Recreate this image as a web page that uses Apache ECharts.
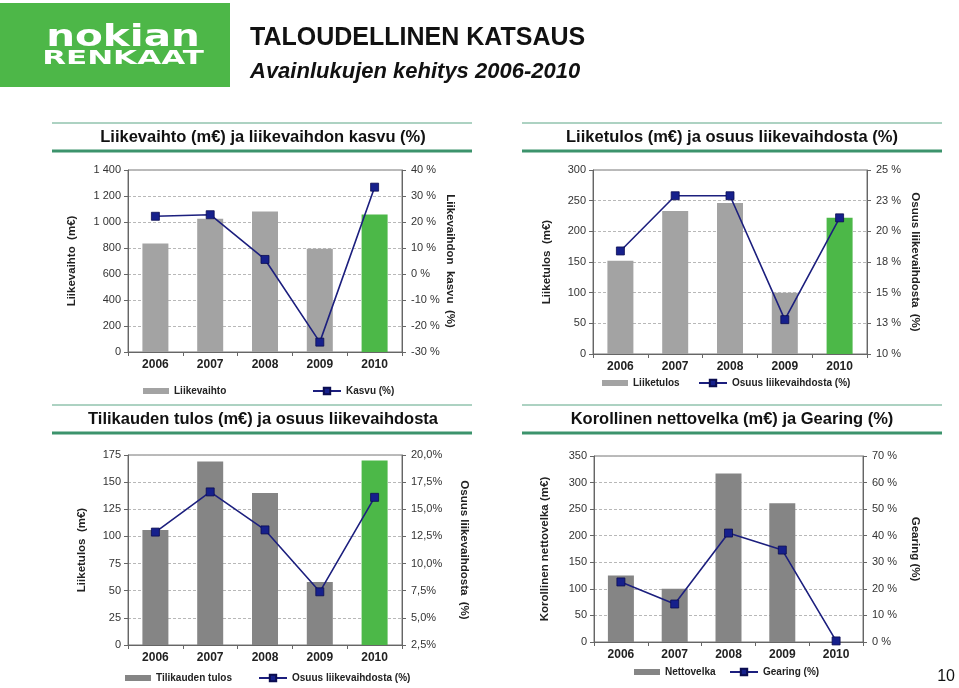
<!DOCTYPE html>
<html>
<head>
<meta charset="UTF-8">
<title>Taloudellinen katsaus</title>
<script src="https://cdn.jsdelivr.net/npm/echarts@6/dist/echarts.min.js"></script>
<style>
  html, body { margin: 0; padding: 0; background: #fff; }
  #main { width: 959px; height: 688px; }
</style>
</head>
<body>
<div id="main"></div>
<script>
// data
var years = ['2006', '2007', '2008', '2009', '2010'];
var liikevaihto = [835, 1025, 1080, 795, 1058];
var kasvu = [22.2, 22.8, 5.6, -26.2, 33.4];
var liiketulos = [152, 233, 246, 100, 222];
var liiketulosOsuus = [18.4, 22.9, 22.9, 12.8, 21.1];
var tilikaudenTulos = [106, 169, 140, 58, 170];
var tulosOsuus = [12.9, 16.6, 13.1, 7.4, 16.1];
var nettovelka = [125, 100, 317, 261, 0];
var gearing = [22.6, 14.3, 41.0, 34.6, 0.4];

var FONT = 'Liberation Sans, Arial, sans-serif';
var NAVY = '#1c1f7e';
var GREEN = '#4cb848';

var myChart = echarts.init(document.getElementById('main'));

function bars(values, grey, last) {
    return values.map(function (v, i) {
        return { value: v, itemStyle: { color: (i == 4 && last) ? GREEN : grey } };
    });
}
function spaced(v) {
    return v >= 1000 ? Math.floor(v / 1000) + ' ' + String(v % 1000).padStart(3, '0') : String(v);
}

function xAx(g) {
    return {
        type: 'category', gridIndex: g, data: years,
        axisLine: { lineStyle: { color: '#666' } },
        axisTick: { show: true, length: 4, lineStyle: { color: '#666' } },
        axisLabel: { margin: 7, fontFamily: FONT, fontSize: 12, fontWeight: 'bold', color: '#222' }
    };
}
function yAx(g, pos, min, max, step, fmt, name, gap, grid) {
    return {
        type: 'value', gridIndex: g, position: pos, min: min, max: max, interval: step,
        name: name, nameLocation: 'middle', nameGap: gap, nameRotate: pos == 'left' ? 90 : -90,
        nameTextStyle: { fontFamily: FONT, fontSize: 11.5, fontWeight: 'bold', color: '#222' },
        axisLine: { show: true, lineStyle: { color: '#666' } },
        axisTick: { show: true, length: 4, lineStyle: { color: '#666' } },
        axisLabel: { margin: pos == 'left' ? 7 : 9, fontFamily: FONT, fontSize: 11, color: '#333', formatter: fmt },
        splitLine: { show: grid, lineStyle: { color: '#b8b8b8', type: [3, 2] } }
    };
}
function lineSeries(name, g, data) {
    return {
        name: name, type: 'line', xAxisIndex: g, yAxisIndex: g * 2 + 1, data: data,
        symbol: 'rect', symbolSize: 8,
        lineStyle: { color: NAVY, width: 1.6 },
        itemStyle: { color: '#16208c', borderColor: '#0b0d50', borderWidth: 0.8 },
        z: 5
    };
}
function barSeries(name, g, data, grey, last) {
    return {
        name: name, type: 'bar', xAxisIndex: g, yAxisIndex: g * 2, data: bars(data, grey, last),
        barWidth: 26, itemStyle: { color: grey }
    };
}
function leg(name, left, top, isBar) {
    return {
        data: [name], left: left, top: top, padding: 0,
        itemWidth: isBar ? 26 : 28, itemHeight: isBar ? 6 : 8, itemGap: 4,
        icon: isBar ? 'rect' : undefined,
        textStyle: { fontFamily: FONT, fontSize: 10, fontWeight: 'bold', color: '#222' },
        selectedMode: false
    };
}

function titleBlock(cx, y1, text) {
    var x0 = cx < 480 ? 52 : 522;
    return [
        { type: 'line', shape: { x1: x0, y1: y1, x2: x0 + 420, y2: y1 }, style: { stroke: '#5aa585', lineWidth: 1 } },
        { type: 'line', shape: { x1: x0, y1: y1 + 28, x2: x0 + 420, y2: y1 + 28 }, style: { stroke: '#3c936c', lineWidth: 3 } },
        { type: 'text', x: cx, y: y1 + 14, style: { text: text, font: 'bold 16.5px ' + FONT, fill: '#111', align: 'center', verticalAlign: 'middle' } }
    ];
}

var option = {
    backgroundColor: '#fff',
    animation: false,
    grid: [
        { left: 128, top: 170, width: 274, height: 182, show: true, borderColor: '#777', borderWidth: 1, backgroundColor: 'transparent' },
        { left: 593, top: 170, width: 274, height: 184, show: true, borderColor: '#777', borderWidth: 1, backgroundColor: 'transparent' },
        { left: 128, top: 455, width: 274, height: 190, show: true, borderColor: '#777', borderWidth: 1, backgroundColor: 'transparent' },
        { left: 594, top: 456, width: 269, height: 186, show: true, borderColor: '#777', borderWidth: 1, backgroundColor: 'transparent' }
    ],
    xAxis: [xAx(0), xAx(1), xAx(2), xAx(3)],
    yAxis: [
        yAx(0, 'left', 0, 1400, 200, spaced, 'Liikevaihto  (m€)', 50, true),
        yAx(0, 'right', -30, 40, 10, function (v) { return v + ' %'; }, 'Liikevaihdon  kasvu  (%)', 42, false),
        yAx(1, 'left', 0, 300, 50, null, 'Liiketulos  (m€)', 40, true),
        yAx(1, 'right', 10, 25, 2.5, function (v) { return Math.round(v) + ' %'; }, 'Osuus liikevaihdosta  (%)', 42, false),
        yAx(2, 'left', 0, 175, 25, null, 'Liiketulos  (m€)', 40, true),
        yAx(2, 'right', 2.5, 20, 2.5, function (v) { return v.toFixed(1).replace('.', ',') + '%'; }, 'Osuus liikevaihdosta  (%)', 56, false),
        yAx(3, 'left', 0, 350, 50, null, 'Korollinen nettovelka (m€)', 43, true),
        yAx(3, 'right', 0, 70, 10, function (v) { return v + ' %'; }, 'Gearing (%)', 46, false)
    ],
    legend: [
        leg('Liikevaihto', 143, 386, true),
        leg('Kasvu (%)', 312, 386, false),
        leg('Liiketulos', 602, 378, true),
        leg('Osuus liikevaihdosta (%)', 698, 378, false),
        leg('Tilikauden tulos', 125, 673, true),
        leg('Osuus liikevaihdosta (%)', 258, 673, false),
        leg('Nettovelka', 634, 667, true),
        leg('Gearing (%)', 729, 667, false)
    ],
    series: [
        barSeries('Liikevaihto', 0, liikevaihto, '#a3a3a3', true),
        lineSeries('Kasvu (%)', 0, kasvu),
        barSeries('Liiketulos', 1, liiketulos, '#a3a3a3', true),
        lineSeries('Osuus liikevaihdosta (%)', 1, liiketulosOsuus),
        barSeries('Tilikauden tulos', 2, tilikaudenTulos, '#858585', true),
        lineSeries('Osuus liikevaihdosta (%)', 2, tulosOsuus),
        barSeries('Nettovelka', 3, nettovelka, '#858585', false),
        lineSeries('Gearing (%)', 3, gearing)
    ],
    graphic: [
        { type: 'rect', shape: { x: 0, y: 3, width: 230, height: 84 }, style: { fill: '#4db748' } },
        { type: 'text', x: 123, y: 38, scaleX: 1.35, style: { text: 'nokian', font: 'bold 30px DejaVu Sans, sans-serif', fill: '#fff', align: 'center', verticalAlign: 'middle' } },
        { type: 'text', x: 123, y: 59, scaleX: 1.55, style: { text: 'RENKAAT', font: 'bold 20px DejaVu Sans, sans-serif', fill: '#fff', align: 'center', verticalAlign: 'middle' } },
        { type: 'text', x: 250, y: 38, style: { text: 'TALOUDELLINEN KATSAUS', font: 'bold 25px ' + FONT, fill: '#111', verticalAlign: 'middle' } },
        { type: 'text', x: 250, y: 72, style: { text: 'Avainlukujen kehitys 2006-2010', font: 'italic bold 22px ' + FONT, fill: '#111', verticalAlign: 'middle' } },
        { type: 'text', x: 955, y: 677, style: { text: '10', font: '16px ' + FONT, fill: '#111', align: 'right', verticalAlign: 'middle' } }
    ].concat(
        titleBlock(263, 123, 'Liikevaihto (m€) ja liikevaihdon kasvu (%)'),
        titleBlock(732, 123, 'Liiketulos (m€) ja osuus liikevaihdosta (%)'),
        titleBlock(263, 405, 'Tilikauden tulos (m€) ja osuus liikevaihdosta'),
        titleBlock(732, 405, 'Korollinen nettovelka (m€) ja Gearing (%)')
    )
};
myChart.setOption(option);
</script>
</body>
</html>
